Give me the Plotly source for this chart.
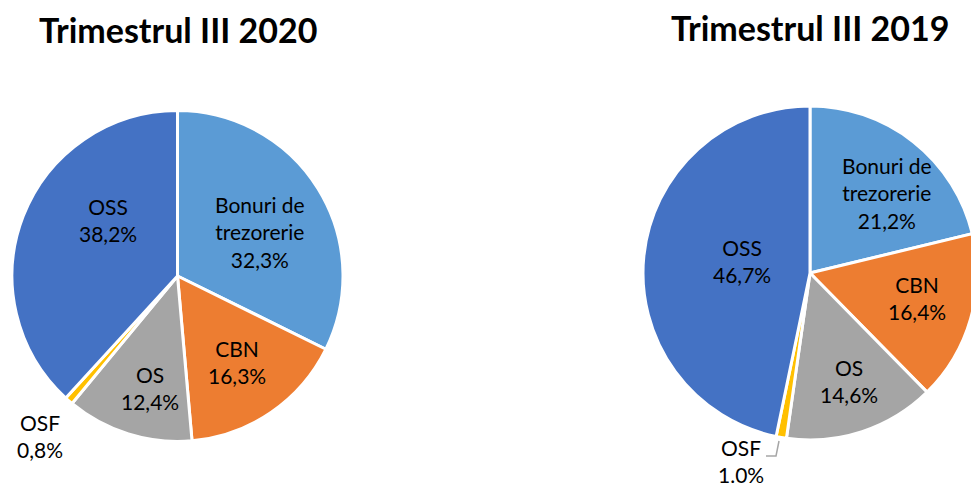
import plotly.graph_objects as go

categories = ["Bonuri de<br>trezorerie", "CBN", "OS", "OSF", "OSS"]
values_2020 = [32.3, 16.3, 12.4, 0.8, 38.2]
values_2019 = [21.2, 16.4, 14.6, 1.0, 46.7]
pct_2020 = ["32,3%", "16,3%", "12,4%", "0,8%", "38,2%"]
pct_2019 = ["21,2%", "16,4%", "14,6%", "1.0%", "46,7%"]
titles = ["Trimestrul III 2020", "Trimestrul III 2019"]
colors = ["#5B9BD5", "#ED7D31", "#A5A5A5", "#FFC000", "#4472C4"]

FONT = "Lato"
W, H = 980, 487  # slightly wider than the window: the right pie is cut at the window edge, as in the reference


def px(x):
    return x / W


def py(y):
    return 1 - y / H


# label anchor positions (window pixels) for each category, per chart
label_pos_2020 = [(260, 232), (237, 362), (150, 388), (40, 436), (108, 220)]
label_pos_2019 = [(887, 193), (917, 298), (849, 381), (741, 461), (742, 261)]

fig = go.Figure()
for vals, dom in [
    (values_2020, dict(x=[px(12), px(343)], y=[py(442), py(110)])),
    (values_2019, dict(x=[px(643), px(977)], y=[py(440), py(106)])),
]:
    fig.add_trace(go.Pie(
        labels=[c.replace("<br>", " ") for c in categories],
        values=vals,
        textinfo="none",
        marker=dict(colors=colors, line=dict(color="#FFFFFF", width=3)),
        sort=False,
        direction="clockwise",
        rotation=0,
        domain=dom,
        hoverinfo="label+percent",
        showlegend=False,
    ))

# titles
for t, (tx, ty) in zip(titles, [(178, 29), (810, 28)]):
    fig.add_annotation(x=px(tx), y=py(ty), xref="paper", yref="paper", text="<b>" + t + "</b>",
                       xanchor="center", yanchor="middle", showarrow=False,
                       font=dict(family=FONT, size=34, color="#000000"))

# slice labels
for pcts, poss in [(pct_2020, label_pos_2020), (pct_2019, label_pos_2019)]:
    for c, p, (lx, ly) in zip(categories, pcts, poss):
        fig.add_annotation(x=px(lx), y=py(ly), xref="paper", yref="paper",
                           text=f"{c}<br>{p}", xanchor="center", yanchor="middle",
                           showarrow=False, align="center",
                           font=dict(family=FONT, size=21, color="#000000"))

# leader line for right OSF label
fig.add_shape(type="path", xref="paper", yref="paper",
              path=f"M {px(766)} {py(456)} L {px(776)} {py(456)} L {px(779)} {py(441)}",
              line=dict(color="#A6A6A6", width=1.5))

fig.update_layout(
    width=W, height=H,
    margin=dict(l=0, r=0, t=0, b=0),
    paper_bgcolor="#FFFFFF",
    plot_bgcolor="#FFFFFF",
    font=dict(family=FONT),
)

fig.write_html(
    "out.html",
    config={"displayModeBar": False},
    post_script=(
        "document.documentElement.style.overflow='hidden';"
        "document.body.style.overflow='hidden';"
        "document.body.style.margin='0';"
    ),
)
